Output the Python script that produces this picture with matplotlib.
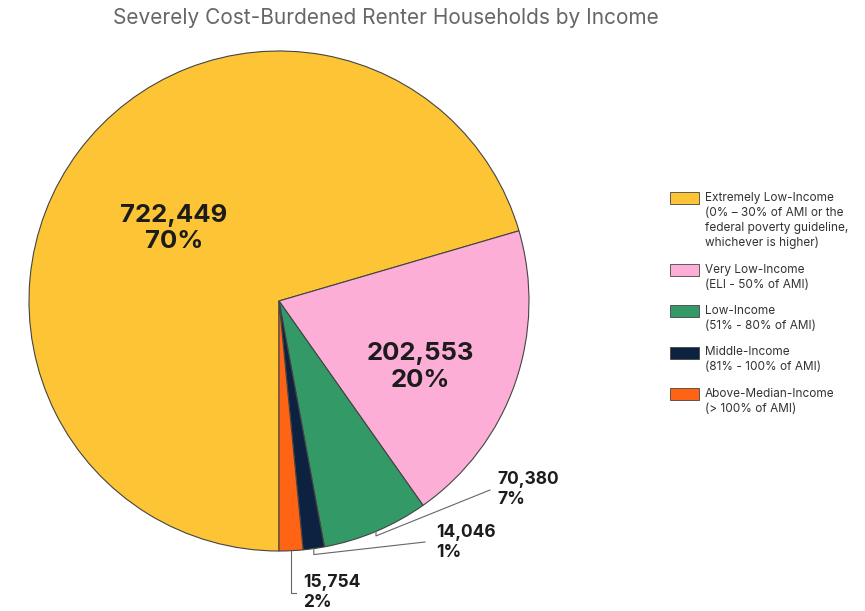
import matplotlib.pyplot as plt
import matplotlib.patches as mpatches
import numpy as np

categories = ['Extremely Low-Income\n(0% \u2013 30% of AMI or the\nfederal poverty guideline,\nwhichever is higher)',
              'Very Low-Income\n(ELI - 50% of AMI)',
              'Low-Income\n(51% - 80% of AMI)',
              'Middle-Income\n(81% - 100% of AMI)',
              'Above-Median-Income\n(> 100% of AMI)']
households = [722449, 202553, 70380, 14046, 15754]
pct_labels = ['70%', '20%', '7%', '1%', '2%']
colors = ['#FDC536', '#FCAED6', '#339966', '#0D2240', '#FF6314']

W, H = 865, 611
fig = plt.figure(figsize=(W / 100, H / 100), dpi=100)
# pie centre (279, 301) px, radius 250 px
ax = fig.add_axes([29 / W, (H - 551) / H, 500 / W, 500 / H])
wedges, _ = ax.pie(households, colors=colors, startangle=270, counterclock=False,
                   wedgeprops=dict(edgecolor='#444444', linewidth=0.8))
ax.set_xlim(-1, 1)
ax.set_ylim(-1, 1)
ax.set_aspect('equal')
ax.axis('off')

txtc = '#1c1c1c'
font = 'Inter'
labels = [f'{v:,}\n{p}' for v, p in zip(households, pct_labels)]

# big labels inside slices
ax.text(-0.42, 0.29, labels[0], ha='center', va='center', fontsize=18.5, fontweight='bold',
        family=font, color=txtc, linespacing=1.2)
ax.text(0.565, -0.265, labels[1], ha='center', va='center', fontsize=18.5, fontweight='bold',
        family=font, color=txtc, linespacing=1.2)

# small slices: leader lines from mid of arc
def arc_mid(w):
    a = np.deg2rad((w.theta1 + w.theta2) / 2)
    return np.cos(a), np.sin(a)

lc = '#666666'
x0, y0 = arc_mid(wedges[2])
ax.plot([x0, x0, 0.844], [y0, y0 - 0.018, -0.756], color=lc, lw=0.8, clip_on=False)
ax.text(0.872, -0.68, labels[2], ha='left', va='top', fontsize=12.5, fontweight='bold',
        family=font, color=txtc, linespacing=1.2)

x0, y0 = arc_mid(wedges[3])
ax.plot([x0, x0, 0.584], [y0, y0 - 0.024, -0.964], color=lc, lw=0.8, clip_on=False)
ax.text(0.628, -0.893, labels[3], ha='left', va='top', fontsize=12.5, fontweight='bold',
        family=font, color=txtc, linespacing=1.2)

x0, y0 = arc_mid(wedges[4])
ax.plot([x0, x0, 0.068], [y0, -1.168, -1.168], color=lc, lw=0.8, clip_on=False)
ax.text(0.096, -1.093, labels[4], ha='left', va='top', fontsize=12.5, fontweight='bold',
        family=font, color=txtc, linespacing=1.2)

fig.text(386 / W, 1 - 18 / H, 'Severely Cost-Burdened Renter Households by Income',
         ha='center', va='center', fontsize=15, color='#666666', family=font)

# legend drawn manually so the swatch lines up with the first text line
y = 198
for lab, c in zip(categories, colors):
    fig.patches.append(mpatches.Rectangle((670 / W, 1 - (y + 6) / H), 29 / W, 12 / H,
                                          transform=fig.transFigure, facecolor=c,
                                          edgecolor='#444444', linewidth=0.6))
    for line in lab.split('\n'):
        fig.text(705 / W, 1 - y / H, line, ha='left', va='center', fontsize=8.5,
                 color='#333333', family=font)
        y += 15
    y += 11.5

fig.savefig('out.png', dpi=100)
